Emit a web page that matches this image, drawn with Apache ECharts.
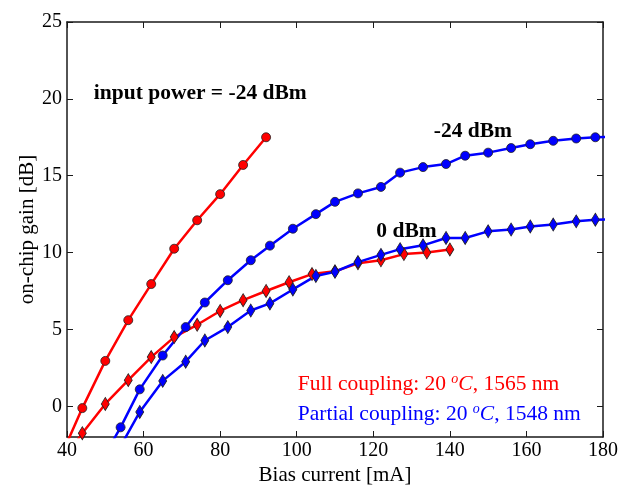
<!DOCTYPE html>
<html>
<head>
<meta charset="utf-8">
<script src="https://cdn.jsdelivr.net/npm/echarts@6/dist/echarts.min.js"></script>
<style>
html,body{margin:0;padding:0;background:#fff;}
#c{width:629px;height:485px;}
</style>
</head>
<body>
<div id="c"></div>
<script>
// ---- data ----
const xTicks = [40, 60, 80, 100, 120, 140, 160, 180];
const yTicks = [0, 5, 10, 15, 20, 25];

const redX = [38, 44, 50, 56, 62, 68, 74, 80, 86, 92, 98, 104, 110, 116, 122, 128, 134, 140];
const redCircY = [-3.5, -0.12, 2.95, 5.6, 7.95, 10.25, 12.1, 13.8, 15.7, 17.5];
const redDiaY = [-3.9, -1.75, 0.15, 1.7, 3.2, 4.5, 5.3, 6.2, 6.9, 7.5, 8.07, 8.6, 8.78, 9.3, 9.5, 9.9, 10.0, 10.2];

const blueX = [48, 54, 59, 65, 71, 76, 82, 88, 93, 99, 105, 110, 116, 122, 127, 133, 139, 144, 150, 156, 161, 167, 173, 178, 184];
const blueCircY = [-4.0, -1.37, 1.1, 3.3, 5.15, 6.75, 8.2, 9.5, 10.45, 11.55, 12.5, 13.3, 13.85, 14.27, 15.2, 15.56, 15.76, 16.3, 16.5, 16.8, 17.05, 17.27, 17.42, 17.5, 17.55];
const blueDiaY = [-5.0, -2.6, -0.37, 1.65, 2.9, 4.28, 5.15, 6.23, 6.69, 7.6, 8.48, 8.75, 9.38, 9.85, 10.22, 10.47, 10.95, 10.95, 11.38, 11.5, 11.7, 11.82, 12.03, 12.14, 12.15];

const notes = [
  {x: 47, y: 20.35, text: 'input power = -24 dBm', style: 'bold'},
  {x: 135.8, y: 17.85, text: '-24 dBm', style: 'bold'},
  {x: 120.8, y: 11.4, text: '0 dBm', style: 'bold'},
  {x: 100.3, y: 1.4, text: '{t|Full coupling: 20 }{s|o}{i|C}{t|, 1565 nm}', style: 'red'},
  {x: 100.3, y: -0.55, text: '{t|Partial coupling: 20 }{s|o}{i|C}{t|, 1548 nm}', style: 'blue'}
];

// ---- chart ----
const FONT = '"Liberation Serif", "DejaVu Serif", serif';
const chart = echarts.init(document.getElementById('c'), null, {renderer: 'canvas'});

function zip(xs, ys) { return ys.map((y, i) => [xs[i], y]); }

function lineSeries(xs, ys, color, symbol, size) {
  return {
    type: 'line',
    data: zip(xs, ys),
    clip: true,
    symbol: symbol,
    symbolSize: size,
    showAllSymbol: true,
    lineStyle: {color: color, width: 2.5},
    itemStyle: {color: color, borderColor: '#222', borderWidth: 0.8},
    emphasis: {disabled: true},
    animation: false,
    z: 3
  };
}

function noteSeries(n) {
  const color = n.style === 'red' ? '#ff0000' : (n.style === 'blue' ? '#0000ff' : '#000000');
  const bold = n.style === 'bold';
  return {
    type: 'scatter',
    data: [[n.x, n.y]],
    symbolSize: 0,
    silent: true,
    animation: false,
    z: 5,
    label: {
      show: true,
      position: 'right',
      distance: 0,
      opacity: 1,
      formatter: n.text,
      fontFamily: FONT,
      fontSize: 21.5,
      fontWeight: bold ? 'bold' : 'normal',
      color: color,
      textBorderWidth: 0,
      rich: {
        t: {fontFamily: FONT, fontSize: 21.5, color: color, lineHeight: 24},
        s: {fontFamily: FONT, fontSize: 14, fontStyle: 'italic', color: color, verticalAlign: 'top', lineHeight: 14},
        i: {fontFamily: FONT, fontSize: 21.5, fontStyle: 'italic', color: color, lineHeight: 24}
      }
    }
  };
}

const axisLineStyle = {color: '#1a1a1a', width: 1.5};

const option = {
  backgroundColor: '#fff',
  animation: false,
  grid: {left: 67, right: 26, top: 22, bottom: 48, show: false, containLabel: false, outerBoundsMode: 'none'},
  xAxis: [
    {
      type: 'value', min: 40, max: 180, interval: 20, position: 'bottom',
      name: 'Bias current [mA]', nameLocation: 'middle', nameGap: 28, nameMoveOverlap: false,
      nameTextStyle: {fontFamily: FONT, fontSize: 21, color: '#000'},
      axisLine: {show: true, onZero: false, lineStyle: axisLineStyle},
      axisTick: {show: true, inside: true, length: 6, lineStyle: {color: '#1a1a1a', width: 1}},
      axisLabel: {show: true, margin: 4, fontFamily: FONT, fontSize: 20, color: '#000',
        customValues: xTicks},
      splitLine: {show: false}
    },
    {
      type: 'value', min: 40, max: 180, interval: 20, position: 'top',
      axisLine: {show: true, onZero: false, lineStyle: axisLineStyle},
      axisTick: {show: true, inside: true, length: 6, lineStyle: {color: '#1a1a1a', width: 1}},
      axisLabel: {show: false},
      splitLine: {show: false}
    }
  ],
  yAxis: [
    {
      type: 'value', min: -2, max: 25, position: 'left',
      name: 'on-chip gain [dB]', nameLocation: 'middle', nameGap: 29, nameMoveOverlap: false,
      nameTextStyle: {fontFamily: FONT, fontSize: 21, color: '#000'},
      axisLine: {show: true, onZero: false, lineStyle: axisLineStyle},
      axisTick: {show: true, inside: true, length: 6, customValues: yTicks, lineStyle: {color: '#1a1a1a', width: 1}},
      axisLabel: {show: true, margin: 5, fontFamily: FONT, fontSize: 20, color: '#000', customValues: yTicks},
      splitLine: {show: false}
    },
    {
      type: 'value', min: -2, max: 25, position: 'right',
      axisLine: {show: true, onZero: false, lineStyle: axisLineStyle},
      axisTick: {show: true, inside: true, length: 6, customValues: yTicks, lineStyle: {color: '#1a1a1a', width: 1}},
      axisLabel: {show: false, customValues: yTicks},
      splitLine: {show: false}
    }
  ],
  series: [
    lineSeries(redX.slice(0, redCircY.length), redCircY, '#ff0000', 'circle', 9),
    lineSeries(redX, redDiaY, '#ff0000', 'diamond', [8, 13]),
    lineSeries(blueX, blueCircY, '#0000ff', 'circle', 9),
    lineSeries(blueX, blueDiaY, '#0000ff', 'diamond', [8, 13])
  ].concat(notes.map(noteSeries))
};

chart.setOption(option);
</script>
</body>
</html>
